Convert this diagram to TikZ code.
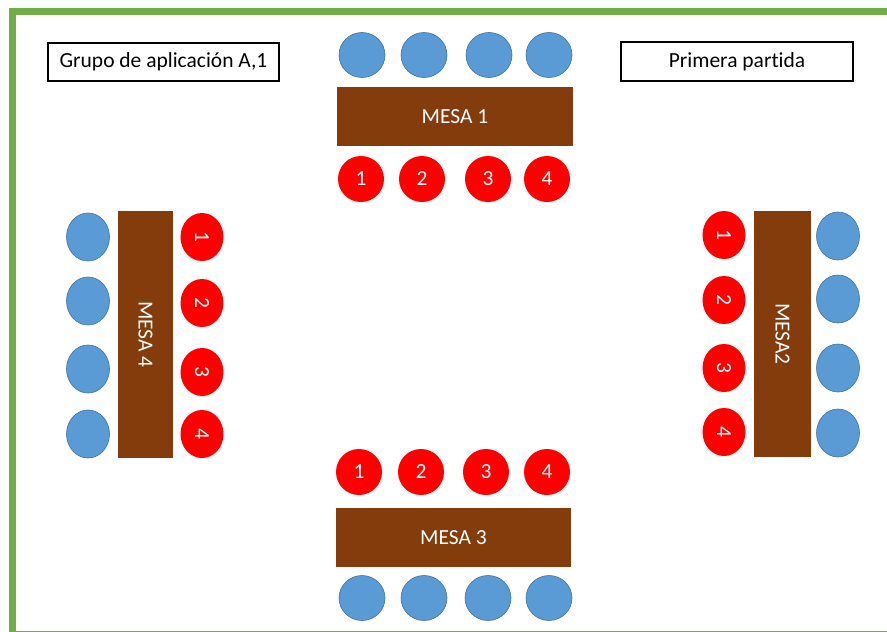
\documentclass[tikz,border=0pt]{standalone}
\usepackage{fontspec}
\setmainfont[Ligatures=NoCommon]{Carlito}
\usetikzlibrary{shapes.geometric}
\definecolor{verde}{HTML}{70AD47}
\definecolor{azul}{HTML}{5B9BD5}
\definecolor{azuloscuro}{HTML}{41719C}
\definecolor{madera}{HTML}{843C0C}
\begin{document}
\begin{tikzpicture}[x=1pt, y=-1pt, font=\fontsize{21.5}{25}\selectfont,
    mesa/.style={fill=madera, text=white, inner sep=0pt},
    silla/.style={ellipse, fill=azul, draw=azuloscuro, line width=0.6pt, inner sep=0pt, minimum width=46pt, minimum height=45pt},
    jugador/.style={ellipse, fill=red, text=white, inner sep=0pt, minimum width=46pt, minimum height=46pt},
    lado/.style={minimum width=43pt, minimum height=48pt},
    cartel/.style={draw, line width=2pt, fill=white, inner sep=0pt}]
            \useasboundingbox (0,0) rectangle (887,632);
            \clip (0,0) rectangle (887,632);
            % marco verde
            \draw[verde, line width=7pt] (12.5,11) rectangle (893,634);
            % carteles
            \node[cartel, minimum width=231pt, minimum height=38pt] (grupo) at (163.5,62) {Grupo de aplicación A,1};
            \node[cartel, minimum width=232pt, minimum height=39pt] (partida) at (737,61.5) {Primera partida};
            % mesa 1
            \node[mesa, minimum width=236pt, minimum height=59pt] (mesa1) at (455,116.5) {MESA 1};
            \node[silla] (s1a) at (362,55) {};
            \node[silla] (s1b) at (424,55) {};
            \node[silla] (s1c) at (489,55) {};
            \node[silla] (s1d) at (549,55) {};
            \node[jugador] (j1a) at (361,179) {1};
            \node[jugador] (j1b) at (422,179) {2};
            \node[jugador] (j1c) at (488,179) {3};
            \node[jugador] (j1d) at (547,179) {4};
            % mesa 3
            \node[mesa, minimum width=235pt, minimum height=59pt] (mesa3) at (453.5,537.5) {MESA 3};
            \node[jugador] (j3a) at (359,472) {1};
            \node[jugador] (j3b) at (421,472) {2};
            \node[jugador] (j3c) at (486,472) {3};
            \node[jugador] (j3d) at (547,472) {4};
            \node[silla] (s3a) at (362,598) {};
            \node[silla] (s3b) at (424,598) {};
            \node[silla] (s3c) at (488,598) {};
            \node[silla] (s3d) at (549,598) {};
            % mesa 4 (izquierda)
            \node[mesa, minimum width=55pt, minimum height=247pt] (mesa4) at (145.5,334.5) {};
            \node[text=white, rotate=-90] (rotulo4) at (mesa4) {MESA 4};
            \node[silla, lado] (s4a) at (88,237) {};
            \node[silla, lado] (s4b) at (88,301) {};
            \node[silla, lado] (s4c) at (88,369) {};
            \node[silla, lado] (s4d) at (88,434) {};
            \node[jugador, lado] (j4a) at (202,237) {\rotatebox{-90}{1}};
            \node[jugador, lado] (j4b) at (202,303) {\rotatebox{-90}{2}};
            \node[jugador, lado] (j4c) at (202,372) {\rotatebox{-90}{3}};
            \node[jugador, lado] (j4d) at (202,434) {\rotatebox{-90}{4}};
            % mesa 2 (derecha)
            \node[mesa, minimum width=57pt, minimum height=246pt] (mesa2) at (782.5,334) {};
            \node[text=white, rotate=-90] (rotulo2) at (mesa2) {MESA2};
            \node[jugador, lado] (j2a) at (724,235) {\rotatebox{-90}{1}};
            \node[jugador, lado] (j2b) at (724,300) {\rotatebox{-90}{2}};
            \node[jugador, lado] (j2c) at (724,368) {\rotatebox{-90}{3}};
            \node[jugador, lado] (j2d) at (724,432) {\rotatebox{-90}{4}};
            \node[silla, lado] (s2a) at (838,236) {};
            \node[silla, lado] (s2b) at (838,299) {};
            \node[silla, lado] (s2c) at (838,368) {};
            \node[silla, lado] (s2d) at (838,433) {};
        \end{tikzpicture}
\end{document}
